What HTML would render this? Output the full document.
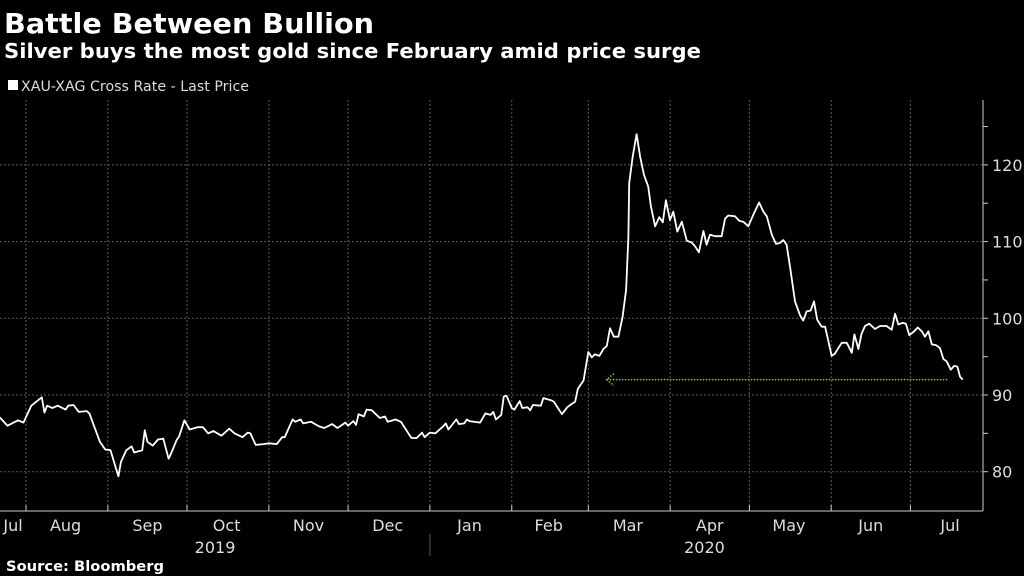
<!DOCTYPE html>
<html><head><meta charset="utf-8"><style>
html,body{margin:0;padding:0;background:#000;width:1024px;height:576px;overflow:hidden}
svg{display:block}
text{font-family:"DejaVu Sans","Liberation Sans",sans-serif}
</style></head><body>
<svg id="chart" width="1024" height="576" viewBox="0 0 1024 576">
<text x="4" y="33" font-size="28" font-weight="bold" fill="#fff" textLength="370" lengthAdjust="spacingAndGlyphs">Battle Between Bullion</text>
<text x="4" y="58" font-size="20" font-weight="bold" fill="#fff" textLength="697" lengthAdjust="spacingAndGlyphs">Silver buys the most gold since February amid price surge</text>
<rect x="8" y="80" width="10" height="10" fill="#fff"/>
<text x="21" y="91" font-size="14" fill="#ddd" textLength="228" lengthAdjust="spacingAndGlyphs">XAU-XAG Cross Rate - Last Price</text>
<text x="6" y="571" font-size="14" font-weight="bold" fill="#fff" textLength="158" lengthAdjust="spacingAndGlyphs">Source: Bloomberg</text>
<g id="grid"></g><g id="axes"></g><g id="series"></g>
</svg>
<script>
const monthStarts = [31, 62, 92, 123, 153, 184, 215, 244, 275, 305, 336, 366];
const monthLabels = ["Jul","Aug","Sep","Oct","Nov","Dec","Jan","Feb","Mar","Apr","May","Jun","Jul"];
const monthCenters = [14, 46, 77, 107, 138, 168, 199, 229, 259, 290, 320, 351, 381];
const yTicks = [80, 90, 100, 110, 120];
const yMinorTicks = [80, 85, 90, 95, 100, 105, 110, 115, 120, 125];
const years = ["2019", "2020"];
const yearCenters = [102.6, 288];
const days = [21,24,28,30,33,37,38,39,41,43,46,47,49,51,54,55,59,61,63,65,66,67,69,71,72,75,76,77,79,81,83,85,86,88,89,91,93,96,98,100,102,105,108,110,113,115,116,118,121,123,126,128,129,132,133,135,136,139,142,144,147,149,152,153,155,156,157,159,160,162,165,167,168,171,173,177,179,181,182,184,186,189,190,191,194,195,197,198,199,203,205,207,208,209,211,212,213,215,216,218,219,221,222,223,226,227,230,231,234,236,238,239,240,242.2,
244.0,245.3,246.5,248.2,249.7,251.0,252.2,253.7,255.4,257.0,258.3,259.2,259.5,260.8,262.3,263.6,265.1,266.7,267.7,269.3,270.9,272.2,273.4,274.9,276.2,277.7,279.4,281.3,283.1,284.4,285.9,287.6,288.8,290.1,292.0,294.5,295.8,297.0,299.6,301.2,302.7,304.6,306.5,308.7,310.3,311.6,313.5,315.1,316.4,317.9,319.1,320.6,322.3,324.2,325.4,326.7,328.2,329.5,330.7,332.4,333.7,336.2,337.4,338.7,340.0,341.9,343.8,344.8,346.3,347.5,348.8,350.4,352.6,354.5,357.0,358.9,360.2,361.4,363.1,364.3,365.6,367.1,368.8,370.3,371.5,372.8,374.1,375.7,377.2,378.5,379.7,381.3,382.5,383.8,384.8,385.8];
const values = [87.1,86.0,86.7,86.4,88.6,89.7,87.7,88.6,88.3,88.6,88.1,88.6,88.7,87.8,87.9,87.6,83.9,82.9,82.8,80.5,79.4,81.3,82.8,83.3,82.5,82.8,85.4,83.9,83.4,84.2,84.3,81.7,82.4,84.1,84.6,86.7,85.5,85.8,85.8,85.0,85.3,84.7,85.6,85.0,84.5,85.1,85.0,83.5,83.6,83.7,83.6,84.5,84.5,86.8,86.5,86.8,86.3,86.5,85.9,85.7,86.2,85.7,86.4,86.0,86.6,86.1,87.5,87.2,88.1,88.0,87.0,87.2,86.5,86.8,86.5,84.4,84.4,85.1,84.5,85.1,85.0,85.9,86.3,85.5,86.8,86.2,86.3,86.8,86.6,86.4,87.6,87.4,87.8,86.8,87.4,89.8,89.9,88.3,88.1,89.2,88.3,88.4,88.0,88.7,88.6,89.6,89.3,89.1,87.5,88.4,88.9,89.1,90.8,91.9,
95.6,94.9,95.3,95.1,96.0,96.4,98.7,97.6,97.6,100.2,103.7,110.7,117.6,121.1,124.0,121.1,118.7,117.2,114.6,112.0,113.2,112.5,115.4,112.8,113.9,111.3,112.6,110.1,109.9,109.4,108.6,111.4,109.6,110.9,110.7,110.7,113.0,113.4,113.3,112.7,112.6,112.0,113.5,115.1,113.9,113.3,110.9,109.7,109.8,110.2,109.6,106.3,102.2,100.4,99.7,100.9,101.0,102.2,99.8,98.9,98.9,95.1,95.4,96.1,96.8,96.8,95.5,97.9,96.0,98.0,99.0,99.3,98.6,99.0,99.0,98.5,100.6,99.2,99.4,99.3,97.8,98.2,98.8,98.3,97.6,98.3,96.6,96.5,96.1,94.7,94.4,93.3,93.8,93.7,92.4,92.0];
const lastValue = 92.0;
const arrowStartDay = 251;

const NS = "http://www.w3.org/2000/svg";
const X0 = 26, D0 = 31, PXD = 2.64;
const xScale = d => X0 + (d - D0) * PXD;
const yScale = v => 395 - (v - 90) * 7.67;
const AXR = 983, AXB = 511, TOP = 100;
function mk(tag, parent, attrs){const e=document.createElementNS(NS,tag);for(const k in attrs)e.setAttribute(k,attrs[k]);parent.appendChild(e);return e;}
const grid=document.getElementById('grid'), axes=document.getElementById('axes'), series=document.getElementById('series');

yTicks.forEach(t=>{
  const l=mk('line',grid,{x1:0,x2:AXR,y1:yScale(t),y2:yScale(t),stroke:'#5a5a5a','stroke-width':1,'stroke-dasharray':'2,2'});
  
  
  const tx=mk('text',axes,{x:AXR+9,y:yScale(t)+6,'font-size':16,fill:'#ddd'});
  tx.textContent=t;
  
  
});
yMinorTicks.forEach(t=>{
  const l=mk('line',axes,{x1:AXR,x2:AXR+5,y1:yScale(t),y2:yScale(t),stroke:'#ccc','stroke-width':1});
  
  
});
monthStarts.forEach(d=>{
  const l=mk('line',grid,{x1:xScale(d),x2:xScale(d),y1:TOP,y2:AXB,stroke:'#5a5a5a','stroke-width':1,'stroke-dasharray':'2,2'});
  
  
  const t=mk('line',axes,{x1:xScale(d),x2:xScale(d),y1:AXB-6,y2:AXB,stroke:'#ccc','stroke-width':1});
  
  
});
monthLabels.forEach((m,i)=>{
  const tx=mk('text',axes,{x:Math.max(13,xScale(monthCenters[i])),y:531,'font-size':16,fill:'#ddd','text-anchor':'middle'});
  tx.textContent=m;
  
  
});
years.forEach((y,i)=>{
  const tx=mk('text',axes,{x:xScale(yearCenters[i]),y:553,'font-size':16,fill:'#ddd','text-anchor':'middle'});
  tx.textContent=y;
  
  
});
const sep=mk('line',axes,{x1:xScale(184),x2:xScale(184),y1:534,y2:556,stroke:'#555','stroke-width':1});


const xa=mk('line',axes,{x1:0,x2:AXR,y1:AXB,y2:AXB,stroke:'#ccc','stroke-width':1});


const ya=mk('line',axes,{x1:AXR,x2:AXR,y1:TOP,y2:AXB,stroke:'#ccc','stroke-width':1});



const pts=days.map((d,i)=>xScale(d).toFixed(1)+','+yScale(values[i]).toFixed(1)).join(' ');
const line=mk('polyline',series,{points:pts,fill:'none',stroke:'#fff','stroke-width':1.8,'stroke-linejoin':'round'});



const ay=yScale(lastValue), ax1=xScale(arrowStartDay), ax2=xScale(days[days.length-1])-15;
const arr=mk('g',series,{stroke:'#8fc31f','stroke-width':1.5,'stroke-dasharray':'1.5,1.5',fill:'none'});


mk('line',arr,{x1:ax1,x2:ax2,y1:ay,y2:ay});
mk('polyline',arr,{points:`${ax1+7},${ay-6} ${ax1},${ay} ${ax1+7},${ay+6}`});
</script>
</body></html>
